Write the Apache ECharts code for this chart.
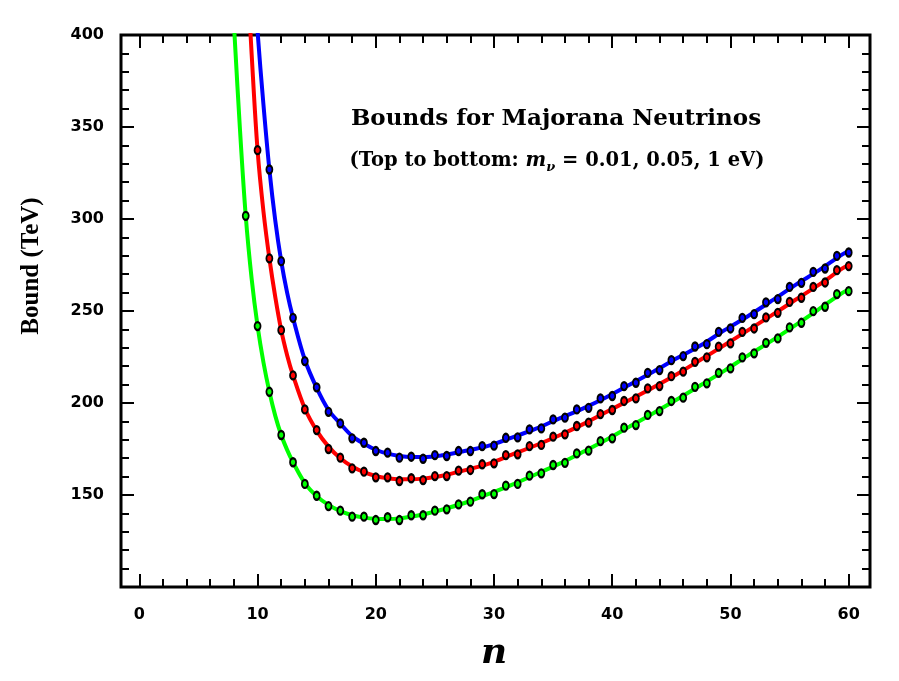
<!DOCTYPE html>
<html><head><meta charset="utf-8">
<script src="https://cdn.jsdelivr.net/npm/echarts@6/dist/echarts.min.js"></script>
<style>html,body{margin:0;padding:0;background:#fff}#c{width:899px;height:681px}</style>
</head><body><div id="c"></div>
<script>
// n values of the plotted points
const nPoints = [9,10,11,12,13,14,15,16,17,18,19,20,21,22,23,24,25,26,27,28,29,30,31,32,33,34,35,36,37,38,39,40,41,42,43,44,45,46,47,48,49,50,51,52,53,54,55,56,57,58,59,60];
// m_nu = 1 eV (green, bottom)
const greenPoints = [301.7,241.8,206.1,182.6,167.8,156.0,149.6,144.0,141.5,138.2,138.2,136.4,137.9,136.4,139.0,139.0,141.5,142.2,144.9,146.4,150.4,150.5,155.1,156.0,160.5,161.8,166.3,167.5,172.6,174.1,179.3,180.8,186.6,188.0,193.5,195.6,201.1,202.9,208.8,210.7,216.4,218.8,224.8,227.0,232.7,235.1,241.1,243.6,249.9,252.3,259.2,260.8];
// m_nu = 0.05 eV (red, middle)
const redPoints = [null,337.4,278.6,239.6,215.0,196.5,185.3,175.0,170.3,164.5,162.7,159.6,159.6,157.6,159.1,158.1,160.3,160.3,163.2,163.6,166.7,167.2,171.7,172.1,176.6,177.2,181.7,183.0,187.5,189.3,194.0,196.2,201.1,202.5,208.0,209.2,214.6,217.0,222.4,224.8,230.6,232.4,238.7,240.5,246.5,249.0,255.0,257.2,263.1,265.5,272.2,274.4];
// m_nu = 0.01 eV (blue, top)
const bluePoints = [null,null,326.9,277.1,246.3,222.8,208.5,195.2,188.9,180.8,178.4,173.9,173.0,170.3,170.8,169.7,171.7,171.2,173.9,173.9,176.6,176.8,181.1,181.3,185.7,186.2,191.1,192.0,196.5,197.4,202.5,203.8,209.2,211.0,216.4,217.9,223.3,225.5,230.7,232.0,238.7,240.5,246.3,248.3,254.7,256.5,263.1,265.3,271.3,273.1,280.0,281.8];

// smooth fitted curves
const curveN = [8,8.5,9,9.5,10,10.5,11,11.5,12,12.5,13,14,15,16,17,18,19,20,21,22,23,24,25.5,27.5,29.5,31.5,33.5,35.5,37.5,39.5,41.5,43.5,45.5,47.5,49.5,51.5,53.5,55.5,57.5,59.5,60];
const greenCurve = [406,350,301.7,267.5,241.8,222,206.1,193,182.6,174.5,167.8,156.5,149.4,144.6,141.2,139.0,137.7,137.1,137.0,137.3,138.2,139.4,141.85,145.65,150.45,155.55,161.15,166.9,173.35,180.05,187.3,194.55,202.0,209.75,217.6,225.9,233.9,242.35,251.1,260.0,261.5];
const redCurve = [560,500,448,389.6,337.4,304,278.6,257.5,239.6,226,215.0,197.0,185.0,176.3,170.0,165.5,162.4,160.3,159.1,158.5,158.5,158.9,160.3,163.4,166.95,171.9,176.9,182.35,188.4,195.1,201.8,208.6,215.8,223.6,231.5,239.6,247.75,256.1,264.3,273.3,275.0];
const blueCurve = [640,570,505,450,402,362,326.9,299,277.1,260,246.3,223.5,208.2,196.2,188.8,182.0,177.9,174.6,172.5,171.2,170.6,170.6,171.45,173.9,176.7,181.2,185.95,191.55,196.95,203.15,210.1,217.15,224.4,231.35,239.6,247.3,255.6,264.2,272.2,280.9,282.5];

const xTickMin = 0, xTickMax = 60, xTickStep = 10;
const yMin = 100, yMax = 400, yStep = 50;
const title = 'Bounds for Majorana Neutrinos';

function pts(arr){ const out=[]; nPoints.forEach((n,i)=>{ if(arr[i]!=null) out.push([n,arr[i]]); }); return out; }
function crv(arr){ return curveN.map((n,i)=>[n,arr[i]]); }

const labelFont = {fontFamily:'DejaVu Sans', fontWeight:'bold', fontSize:16, color:'#000'};
const tickStyle = {color:'#000', width:2};

const chart = echarts.init(document.getElementById('c'));
function lineS(data,color){ return {type:'line', xAxisIndex:0, yAxisIndex:0, data, smooth:0.35, showSymbol:false, symbol:'none', clip:true, lineStyle:{color, width:4}, z:2, silent:true}; }
function scatS(data,color){ return {type:'scatter', xAxisIndex:0, yAxisIndex:0, data, symbol:'circle', symbolSize:[6,8], itemStyle:{color, borderColor:'#000', borderWidth:2, opacity:1}, z:3, silent:true}; }

const tickAxis = (pos, labels) => ({
  type:'value', gridIndex:1, min:xTickMin, max:xTickMax, interval:xTickStep, position:pos,
  axisLine:{show:false, onZero:false},
  axisTick:{show:true, inside:true, length:13, lineStyle:tickStyle},
  minorTick:{show:true, splitNumber:5, length:8, lineStyle:tickStyle},
  axisLabel: labels ? Object.assign({show:true, margin:20}, labelFont) : {show:false},
  splitLine:{show:false}
});
const yAxisDef = (pos, labels) => ({
  type:'value', gridIndex:0, min:yMin, max:yMax, interval:yStep, position:pos,
  axisLine:{show:false, onZero:false},
  axisTick:{show:true, inside:true, length:13, lineStyle:tickStyle},
  minorTick:{show:true, splitNumber:5, length:8, lineStyle:tickStyle},
  axisLabel: labels ? Object.assign({show:true, margin:17, showMinLabel:false}, labelFont) : {show:false},
  splitLine:{show:false}
});

chart.setOption({
  animation:false,
  backgroundColor:'#fff',
  grid:[
    {left:121, right:29, top:35, bottom:94, show:true, borderColor:'#000', borderWidth:3, backgroundColor:'transparent'},
    {left:139.3, right:50.3, top:35, bottom:94}
  ],
  xAxis:[
    {type:'value', gridIndex:0, min:-1.55, max:61.8, axisLine:{show:false, onZero:false}, axisTick:{show:false}, axisLabel:{show:false}, splitLine:{show:false}},
    tickAxis('bottom', true),
    tickAxis('top', false)
  ],
  yAxis:[
    yAxisDef('left', true),
    yAxisDef('right', false),
    {type:'value', gridIndex:1, min:yMin, max:yMax, show:false, axisLine:{onZero:false}}
  ],
  graphic:[
    {type:'text', x:556, y:119, style:{text:title, fontFamily:'DejaVu Serif', fontWeight:'bold', fontSize:23, fill:'#000', textAlign:'center', textVerticalAlign:'middle'}},
    {type:'text', x:557, y:161, style:{
      text:'{a|(Top to bottom: }{m|m}{s|ν}{a| = 0.01, 0.05, 1 eV)}',
      textAlign:'center', textVerticalAlign:'middle',
      rich:{
        a:{fontFamily:'DejaVu Serif', fontWeight:'bold', fontSize:19.5, lineHeight:26, fill:'#000'},
        m:{fontFamily:'DejaVu Serif', fontWeight:'bold', fontStyle:'italic', fontSize:19.5, lineHeight:26, fill:'#000'},
        s:{fontFamily:'DejaVu Serif', fontWeight:'bold', fontStyle:'italic', fontSize:13, lineHeight:13, verticalAlign:'bottom', fill:'#000'}
      }}},
    {type:'text', x:32, y:266, rotation:Math.PI/2, style:{text:'Bound (TeV)', fontFamily:'Liberation Serif', fontWeight:'bold', fontSize:25, fill:'#000', textAlign:'center', textVerticalAlign:'middle'}},
    {type:'text', x:494, y:654, style:{text:'n', fontFamily:'DejaVu Serif', fontWeight:'bold', fontStyle:'italic', fontSize:36, fill:'#000', textAlign:'center', textVerticalAlign:'middle'}}
  ],
  series:[
    lineS(crv(blueCurve),'#0000ff'),
    lineS(crv(redCurve),'#ff0000'),
    lineS(crv(greenCurve),'#00ff00'),
    scatS(pts(bluePoints),'#0000ff'),
    scatS(pts(redPoints),'#ff0000'),
    scatS(pts(greenPoints),'#00ff00')
  ]
});
</script></body></html>
